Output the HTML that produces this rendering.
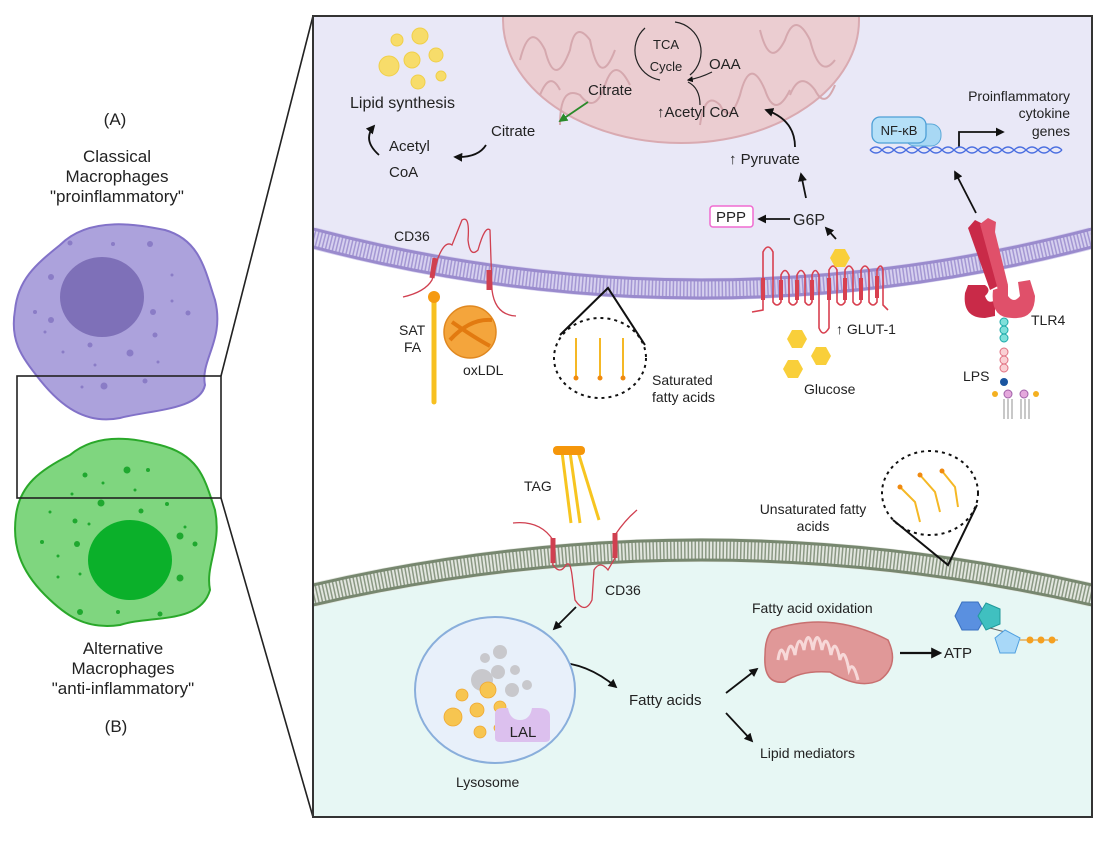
<!DOCTYPE html>
<html><head><meta charset="utf-8"><style>
html,body{margin:0;padding:0;background:#fff;}
svg{display:block;font-family:"Liberation Sans",sans-serif;}
</style></head><body>
<svg width="1101" height="845" viewBox="0 0 1101 845" xmlns="http://www.w3.org/2000/svg">
<defs>
<marker id="ar" viewBox="0 0 10 10" refX="8" refY="5" markerWidth="5" markerHeight="5" orient="auto"><path d="M0,0 L10,5 L0,10 z" fill="#111"/></marker>
<marker id="arg" viewBox="0 0 10 10" refX="8" refY="5" markerWidth="5" markerHeight="5" orient="auto"><path d="M0,0 L10,5 L0,10 z" fill="#2a8a2a"/></marker>
<clipPath id="box"><rect x="313" y="16" width="779" height="801"/></clipPath>
</defs>

<!-- LEFT: cells -->
<path d="M60,245 C90,215 140,225 165,230 C200,240 205,270 215,300 C225,340 200,360 205,385 C200,410 150,410 120,418 C85,425 60,405 40,380 C20,355 10,340 15,310 C18,280 35,265 60,245 Z" fill="#aca2dc" stroke="#8272c8" stroke-width="2"/>
<ellipse cx="102" cy="297" rx="42" ry="40" fill="#7e70b8"/>
<g fill="#8a7cc6">
<circle cx="70" cy="243" r="2.5"/><circle cx="113" cy="244" r="2"/><circle cx="150" cy="244" r="3"/><circle cx="51" cy="277" r="3"/><circle cx="35" cy="312" r="2"/><circle cx="51" cy="320" r="3"/><circle cx="45" cy="332" r="1.5"/><circle cx="153" cy="312" r="3"/><circle cx="172" cy="301" r="1.5"/><circle cx="188" cy="313" r="2.5"/><circle cx="155" cy="335" r="2.5"/><circle cx="172" cy="275" r="1.5"/><circle cx="90" cy="345" r="2.5"/><circle cx="63" cy="352" r="1.5"/><circle cx="130" cy="353" r="3.5"/><circle cx="95" cy="365" r="1.5"/><circle cx="158" cy="362" r="1.5"/><circle cx="104" cy="386" r="3.5"/><circle cx="145" cy="381" r="2.5"/><circle cx="82" cy="387" r="1.5"/></g>
<path d="M70,455 C100,430 140,440 160,445 C200,455 205,480 215,510 C222,545 205,565 210,590 C200,625 150,615 120,625 C85,630 65,615 45,595 C20,570 12,545 16,515 C20,485 40,470 70,455 Z" fill="#7fd67f" stroke="#2aa82a" stroke-width="2"/>
<ellipse cx="130" cy="560" rx="42" ry="40" fill="#0bb02a"/>
<g fill="#1fa82f">
<circle cx="85" cy="475" r="2.5"/><circle cx="127" cy="470" r="3.5"/><circle cx="148" cy="470" r="2"/><circle cx="103" cy="483" r="1.5"/><circle cx="72" cy="494" r="1.5"/><circle cx="135" cy="490" r="1.5"/><circle cx="101" cy="503" r="3.5"/><circle cx="141" cy="511" r="2.5"/><circle cx="167" cy="504" r="2"/><circle cx="50" cy="512" r="1.5"/><circle cx="75" cy="521" r="2.5"/><circle cx="89" cy="524" r="1.5"/><circle cx="180" cy="536" r="3.5"/><circle cx="185" cy="527" r="1.5"/><circle cx="42" cy="542" r="2"/><circle cx="77" cy="544" r="3"/><circle cx="195" cy="544" r="2.5"/><circle cx="58" cy="556" r="1.5"/><circle cx="58" cy="577" r="1.5"/><circle cx="80" cy="574" r="1.5"/><circle cx="180" cy="578" r="3.5"/><circle cx="80" cy="612" r="3"/><circle cx="118" cy="612" r="2"/><circle cx="160" cy="614" r="2.5"/></g>
<rect x="17" y="376" width="204" height="122" fill="none" stroke="#222" stroke-width="1.6"/>
<line x1="221" y1="376" x2="313" y2="16" stroke="#222" stroke-width="1.6"/>
<line x1="221" y1="498" x2="313" y2="817" stroke="#222" stroke-width="1.6"/>
<g font-size="17" fill="#222" text-anchor="middle">
<text x="115" y="125">(A)</text>
<text x="117" y="162">Classical</text>
<text x="117" y="182">Macrophages</text>
<text x="117" y="202">"proinflammatory"</text>
<text x="123" y="654">Alternative</text>
<text x="123" y="674">Macrophages</text>
<text x="123" y="694">"anti-inflammatory"</text>
<text x="116" y="732">(B)</text>
</g>

<!-- RIGHT BOX -->
<g clip-path="url(#box)">
<rect x="313" y="16" width="779" height="801" fill="#fff"/>
<path d="M313,16 L1092,16 L1092,238 Q700,340 313,238 Z" fill="#e9e8f7"/>
<path d="M313,595 Q700,505 1092,595 L1092,817 L313,817 Z" fill="#e7f7f4"/>
<ellipse cx="681" cy="20" rx="178" ry="123" fill="#ebcdd1" stroke="#d9aab1" stroke-width="2"/>
<g fill="none" stroke="#d5a8ae" stroke-width="2">
<path d="M520,60 q10,-40 25,-10 q10,40 25,0 q5,-30 20,-10 q10,50 25,10"/>
<path d="M560,125 q0,-40 20,-30 q15,20 25,-10 q10,-30 25,0"/>
<path d="M700,125 q5,-35 20,-20 q10,20 20,-10 q10,-40 25,-5 q10,30 25,0"/>
<path d="M760,30 q10,40 25,10 q10,-30 25,0 q10,40 25,20"/>
<path d="M540,95 q10,-25 20,-5"/><path d="M790,95 q10,-25 25,-5 q10,20 20,-5"/>
</g>
<path d="M313,238 Q700,340 1092,238" fill="none" stroke="#d6d0ef" stroke-width="22"/>
<path d="M313,238 Q700,340 1092,238" fill="none" stroke="#a497d3" stroke-width="18" stroke-dasharray="1.5 2"/>
<path d="M313,229 Q700,331 1092,229" fill="none" stroke="#9a8bcd" stroke-width="3"/>
<path d="M313,247 Q700,349 1092,247" fill="none" stroke="#9a8bcd" stroke-width="3"/>
<path d="M313,595 Q700,505 1092,595" fill="none" stroke="#e2e6df" stroke-width="24"/>
<path d="M313,595 Q700,505 1092,595" fill="none" stroke="#8a9883" stroke-width="20" stroke-dasharray="1.5 2"/>
<path d="M313,585 Q700,495 1092,585" fill="none" stroke="#77876f" stroke-width="3"/>
<path d="M313,605 Q700,515 1092,605" fill="none" stroke="#77876f" stroke-width="3"/>
</g>
<rect x="313" y="16" width="779" height="801" fill="none" stroke="#333" stroke-width="2"/>

<g fill="#f7dc6a" stroke="#f0cf4a" stroke-width="1">
<circle cx="397" cy="40" r="6"/><circle cx="420" cy="36" r="8"/><circle cx="389" cy="66" r="10"/><circle cx="412" cy="60" r="8"/><circle cx="436" cy="55" r="7"/><circle cx="418" cy="82" r="7"/><circle cx="441" cy="76" r="5"/></g>

<rect x="710" y="206" width="43" height="21" rx="3" fill="#fff" stroke="#f06ad0" stroke-width="1.5"/>

<g font-size="15" fill="#222">
<text x="350" y="108" font-size="16">Lipid synthesis</text>
<text x="389" y="151">Acetyl</text>
<text x="389" y="177">CoA</text>
<text x="491" y="136">Citrate</text>
<text x="588" y="95">Citrate</text>
<text x="666" y="49" font-size="13" text-anchor="middle">TCA</text>
<text x="666" y="71" font-size="13" text-anchor="middle">Cycle</text>
<text x="709" y="69">OAA</text>
<text x="657" y="117">↑Acetyl CoA</text>
<text x="729" y="164">↑ Pyruvate</text>
<text x="793" y="225" font-size="16">G6P</text>
<text x="731" y="222" text-anchor="middle">PPP</text>
<text x="1070" y="101" text-anchor="end" font-size="14">Proinflammatory</text>
<text x="1070" y="118" text-anchor="end" font-size="14">cytokine</text>
<text x="1070" y="136" text-anchor="end" font-size="14">genes</text>
<text x="394" y="241" font-size="14">CD36</text>
<text x="399" y="335" font-size="14">SAT</text>
<text x="404" y="352" font-size="14">FA</text>
<text x="463" y="375" font-size="14">oxLDL</text>
<text x="652" y="385" font-size="14">Saturated</text>
<text x="652" y="402" font-size="14">fatty acids</text>
<text x="836" y="334" font-size="14">↑ GLUT-1</text>
<text x="804" y="394" font-size="14">Glucose</text>
<text x="1031" y="325" font-size="14">TLR4</text>
<text x="963" y="381" font-size="14">LPS</text>
<text x="524" y="491" font-size="14">TAG</text>
<text x="605" y="595" font-size="14">CD36</text>
<text x="476" y="649" font-size="15">TAG</text>
<text x="434" y="678" font-size="15">CE</text>
<text x="456" y="787" font-size="14">Lysosome</text>
<text x="629" y="705" font-size="15">Fatty acids</text>
<text x="760" y="758" font-size="14">Lipid mediators</text>
<text x="752" y="613" font-size="14">Fatty acid oxidation</text>
<text x="944" y="658" font-size="15">ATP</text>
<text x="813" y="514" font-size="14" text-anchor="middle">Unsaturated fatty</text>
<text x="813" y="531" font-size="14" text-anchor="middle">acids</text>
</g>

<g fill="none" stroke="#222" stroke-width="1.2">
<path d="M645,28 A30,30 0 0,0 660,80"/>
<path d="M675,22 A30,30 0 0,1 690,75"/>
<path d="M712,72 Q700,78 688,80" marker-end="url(#ar)"/>
<path d="M700,105 Q700,88 688,82"/>
</g>
<g fill="none" stroke="#111" stroke-width="1.8">
<path d="M486,145 Q478,158 455,157" marker-end="url(#ar)"/>
<path d="M379,155 Q362,140 374,126" marker-end="url(#ar)"/>
<path d="M795,147 Q795,120 766,110" marker-end="url(#ar)"/>
<line x1="806" y1="198" x2="801" y2="174" marker-end="url(#ar)"/>
<line x1="790" y1="219" x2="759" y2="219" marker-end="url(#ar)"/>
<line x1="836" y1="239" x2="826" y2="228" marker-end="url(#ar)"/>
<line x1="976" y1="213" x2="955" y2="172" marker-end="url(#ar)"/>
<path d="M959,147 L959,132 L1003,132" marker-end="url(#ar)"/>
<line x1="576" y1="607" x2="554" y2="629" marker-end="url(#ar)"/>
<path d="M494,683 Q560,640 616,687" marker-end="url(#ar)"/>
<line x1="726" y1="693" x2="757" y2="669" marker-end="url(#ar)"/>
<line x1="726" y1="713" x2="752" y2="741" marker-end="url(#ar)"/>
<line x1="900" y1="653" x2="940" y2="653" stroke-width="2.2" marker-end="url(#ar)"/>
</g>
<line x1="588" y1="102" x2="560" y2="121" stroke="#2a8a2a" stroke-width="1.8" marker-end="url(#arg)"/>

<path d="M870,150 q6,-6 12,0 t12,0 t12,0 t12,0 t12,0 t12,0 t12,0 t12,0 t12,0 t12,0 t12,0 t12,0 t12,0 t12,0 t12,0 t12,0" fill="none" stroke="#4a6ee0" stroke-width="1.3"/>
<path d="M870,150 q6,6 12,0 t12,0 t12,0 t12,0 t12,0 t12,0 t12,0 t12,0 t12,0 t12,0 t12,0 t12,0 t12,0 t12,0 t12,0 t12,0" fill="none" stroke="#4a6ee0" stroke-width="1.3"/>
<rect x="905" y="124" width="36" height="22" rx="10" fill="#a8d8f4" stroke="#5aa8d8"/>
<rect x="872" y="117" width="54" height="26" rx="8" fill="#b5e0f8" stroke="#4d9fd6" stroke-width="1.3"/>
<text x="899" y="135" font-size="13" text-anchor="middle" fill="#222">NF-κB</text>

<g fill="none" stroke="#d04050" stroke-width="1.3">
<path d="M403,297 Q425,292 432,280 L438,258 Q445,240 452,245 Q458,230 462,220 Q470,215 468,240 Q470,258 478,250 Q485,225 490,230 L492,290 Q495,315 516,316"/>
</g>
<line x1="435" y1="258" x2="432" y2="278" stroke="#d04050" stroke-width="5"/>
<line x1="489" y1="270" x2="489" y2="290" stroke="#d04050" stroke-width="5"/>
<line x1="434" y1="300" x2="434" y2="402" stroke="#f7c020" stroke-width="5" stroke-linecap="round"/>
<circle cx="434" cy="297" r="6" fill="#f59a10"/>
<circle cx="470" cy="332" r="26" fill="#f4a53c" stroke="#e08820" stroke-width="1.5"/>
<path d="M450,340 Q470,318 492,320 M452,322 Q475,338 490,346" stroke="#e27a10" stroke-width="4" fill="none"/>

<path d="M560,335 L608,288 L645,345" fill="none" stroke="#111" stroke-width="2"/>
<ellipse cx="600" cy="358" rx="46" ry="40" fill="none" stroke="#111" stroke-width="2" stroke-dasharray="3 4"/>
<g stroke="#f5b825" stroke-width="2"><line x1="576" y1="338" x2="576" y2="376"/><line x1="600" y1="338" x2="600" y2="376"/><line x1="623" y1="338" x2="623" y2="376"/></g>
<g fill="#f08a10"><circle cx="576" cy="378" r="2.5"/><circle cx="600" cy="378" r="2.5"/><circle cx="623" cy="378" r="2.5"/></g>

<!-- GLUT1 -->
<path d="M752,312 L763,310 L763,252 Q768,242 773,252 L773,302 Q777,308 781,302 L781,275 Q785,266 789,275 L789,302 Q793,308 797,302 L797,275 Q801,266 805,275 L805,302 Q809,308 812,302 L812,275 Q815,266 819,275 L819,328 Q823,338 829,328 L829,270 Q833,262 837,270 L837,302 Q841,308 845,302 L845,270 Q849,262 853,270 L853,302 Q857,308 861,302 L861,270 Q865,262 869,270 L869,302 Q873,308 877,302 L877,270 Q881,262 883,270 L883,305 L888,310" fill="none" stroke="#d84050" stroke-width="1.6"/>
<g stroke="#d84050" stroke-width="4"><line x1="763" y1="278" x2="763" y2="300"/><line x1="781" y1="280" x2="781" y2="300"/><line x1="797" y1="280" x2="797" y2="300"/><line x1="812" y1="280" x2="812" y2="300"/><line x1="829" y1="278" x2="829" y2="300"/><line x1="845" y1="278" x2="845" y2="300"/><line x1="861" y1="278" x2="861" y2="300"/><line x1="877" y1="276" x2="877" y2="298"/></g>
<g fill="#f9cf3a">
<polygon points="830,258 835,249 845,249 850,258 845,267 835,267"/>
<polygon points="787,339 792,330 802,330 807,339 802,348 792,348"/>
<polygon points="811,356 816,347 826,347 831,356 826,365 816,365"/>
<polygon points="783,369 788,360 798,360 803,369 798,378 788,378"/>
</g>

<!-- TLR4 -->
<path d="M968,228 L975,220 L983,224 L987,232 L1000,285 L990,290 Z" fill="#c92a48"/>
<path d="M980,224 L988,218 L996,222 L995,232 L1008,285 L998,290 Z" fill="#e0506a"/>
<path d="M965,293 Q962,318 985,318 L995,316 L995,300 Q988,305 985,296 Q992,290 985,285 L968,285 Z" fill="#c92a48"/>
<path d="M993,290 Q990,318 1012,318 Q1035,320 1035,296 L1030,280 L1018,282 L1020,296 Q1014,304 1008,296 L1008,285 Z" fill="#e0506a"/>
<g stroke="#1aa8a8" fill="#7fe0da" stroke-width="1"><circle cx="1004" cy="322" r="4"/><circle cx="1004" cy="330" r="4"/><circle cx="1004" cy="338" r="4"/></g>
<g stroke="#e07080" fill="#fad0d4" stroke-width="1"><circle cx="1004" cy="352" r="4"/><circle cx="1004" cy="360" r="4"/><circle cx="1004" cy="368" r="4"/></g>
<circle cx="1004" cy="382" r="4" fill="#1a55a0"/>
<g fill="#e4a8dc" stroke="#a060a8"><circle cx="1008" cy="394" r="4"/><circle cx="1024" cy="394" r="4"/></g>
<g fill="#f4b020"><circle cx="995" cy="394" r="3"/><circle cx="1036" cy="394" r="3"/></g>
<g stroke="#777" stroke-width="0.8"><line x1="1004" y1="399" x2="1004" y2="419"/><line x1="1008" y1="399" x2="1008" y2="419"/><line x1="1012" y1="399" x2="1012" y2="419"/><line x1="1021" y1="399" x2="1021" y2="419"/><line x1="1025" y1="399" x2="1025" y2="419"/><line x1="1029" y1="399" x2="1029" y2="419"/></g>

<g stroke="#f7c520" stroke-width="3"><line x1="562" y1="452" x2="571" y2="523"/><line x1="570" y1="452" x2="580" y2="523"/><line x1="578" y1="452" x2="599" y2="520"/></g>
<rect x="553" y="446" width="32" height="9" rx="4" fill="#f5960a"/>
<path d="M513,523 Q540,520 553,540 L553,565 Q560,575 566,565 Q570,560 572,575 L575,600 Q585,615 592,600 L594,570 Q600,560 608,570 L615,558 L615,535 Q625,520 637,510" fill="none" stroke="#d04050" stroke-width="1.3"/>
<line x1="553" y1="538" x2="553" y2="563" stroke="#d04050" stroke-width="5"/>
<line x1="615" y1="533" x2="615" y2="558" stroke="#d04050" stroke-width="5"/>

<ellipse cx="495" cy="690" rx="80" ry="73" fill="#e8f0fa" stroke="#89aedb" stroke-width="2"/>
<g fill="#c8c8cc"><circle cx="500" cy="652" r="7"/><circle cx="485" cy="658" r="5"/><circle cx="498" cy="672" r="7"/><circle cx="482" cy="680" r="11"/><circle cx="515" cy="670" r="5"/><circle cx="512" cy="690" r="7"/><circle cx="527" cy="685" r="5"/></g>
<g fill="#f7c550" stroke="#f0a830" stroke-width="0.8"><circle cx="462" cy="695" r="6"/><circle cx="488" cy="690" r="8"/><circle cx="477" cy="710" r="7"/><circle cx="500" cy="707" r="6"/><circle cx="453" cy="717" r="9"/><circle cx="480" cy="732" r="6"/><circle cx="498" cy="728" r="4"/></g>
<path d="M495,714 Q495,708 503,708 L508,708 Q510,720 520,720 Q530,720 532,708 L538,708 Q550,708 550,716 L550,738 Q550,742 545,742 L500,742 Q495,742 495,738 Z" fill="#dcc0ee"/>
<text x="523" y="737" font-size="15" fill="#222" text-anchor="middle">LAL</text>

<ellipse cx="930" cy="493" rx="48" ry="42" fill="none" stroke="#111" stroke-width="2" stroke-dasharray="3 4"/>
<path d="M893,520 L948,565 L977,505" fill="none" stroke="#111" stroke-width="2"/>
<g fill="none" stroke="#f5b825" stroke-width="2"><path d="M900,487 L915,502 L920,522"/><path d="M920,475 L935,492 L940,512"/><path d="M942,471 L955,487 L958,507"/></g>
<g fill="#f08a10"><circle cx="900" cy="487" r="2.5"/><circle cx="920" cy="475" r="2.5"/><circle cx="942" cy="471" r="2.5"/></g>

<path d="M772,630 Q830,610 888,640 Q900,665 880,680 Q860,690 830,672 Q800,670 785,682 Q763,685 765,655 Q765,638 772,630 Z" fill="#e09898" stroke="#c87070" stroke-width="1.5"/>
<path d="M778,660 q3,-20 8,0 q4,-25 9,-5 q4,-25 9,-5 q4,-25 9,0 q4,-25 9,0 q4,-20 9,5 q4,-20 9,5 q4,-15 9,10 q4,-10 9,10" fill="none" stroke="#f7d8d8" stroke-width="3"/>
<polygon points="962,602 978,602 986,616 978,630 962,630 955,616" fill="#5a90e0" stroke="#3a70c0"/>
<polygon points="986,603 1000,609 1000,624 986,630 978,616" fill="#40c0c0" stroke="#209a9a"/>
<line x1="990" y1="628" x2="1005" y2="632" stroke="#666"/>
<polygon points="1005,630 1020,638 1015,653 1000,653 995,638" fill="#a8d8f8" stroke="#50a0e0"/>
<line x1="1020" y1="640" x2="1058" y2="640" stroke="#e08a10"/>
<g fill="#f5a020"><circle cx="1030" cy="640" r="3.5"/><circle cx="1041" cy="640" r="3.5"/><circle cx="1052" cy="640" r="3.5"/></g>
</svg>
</body></html>
